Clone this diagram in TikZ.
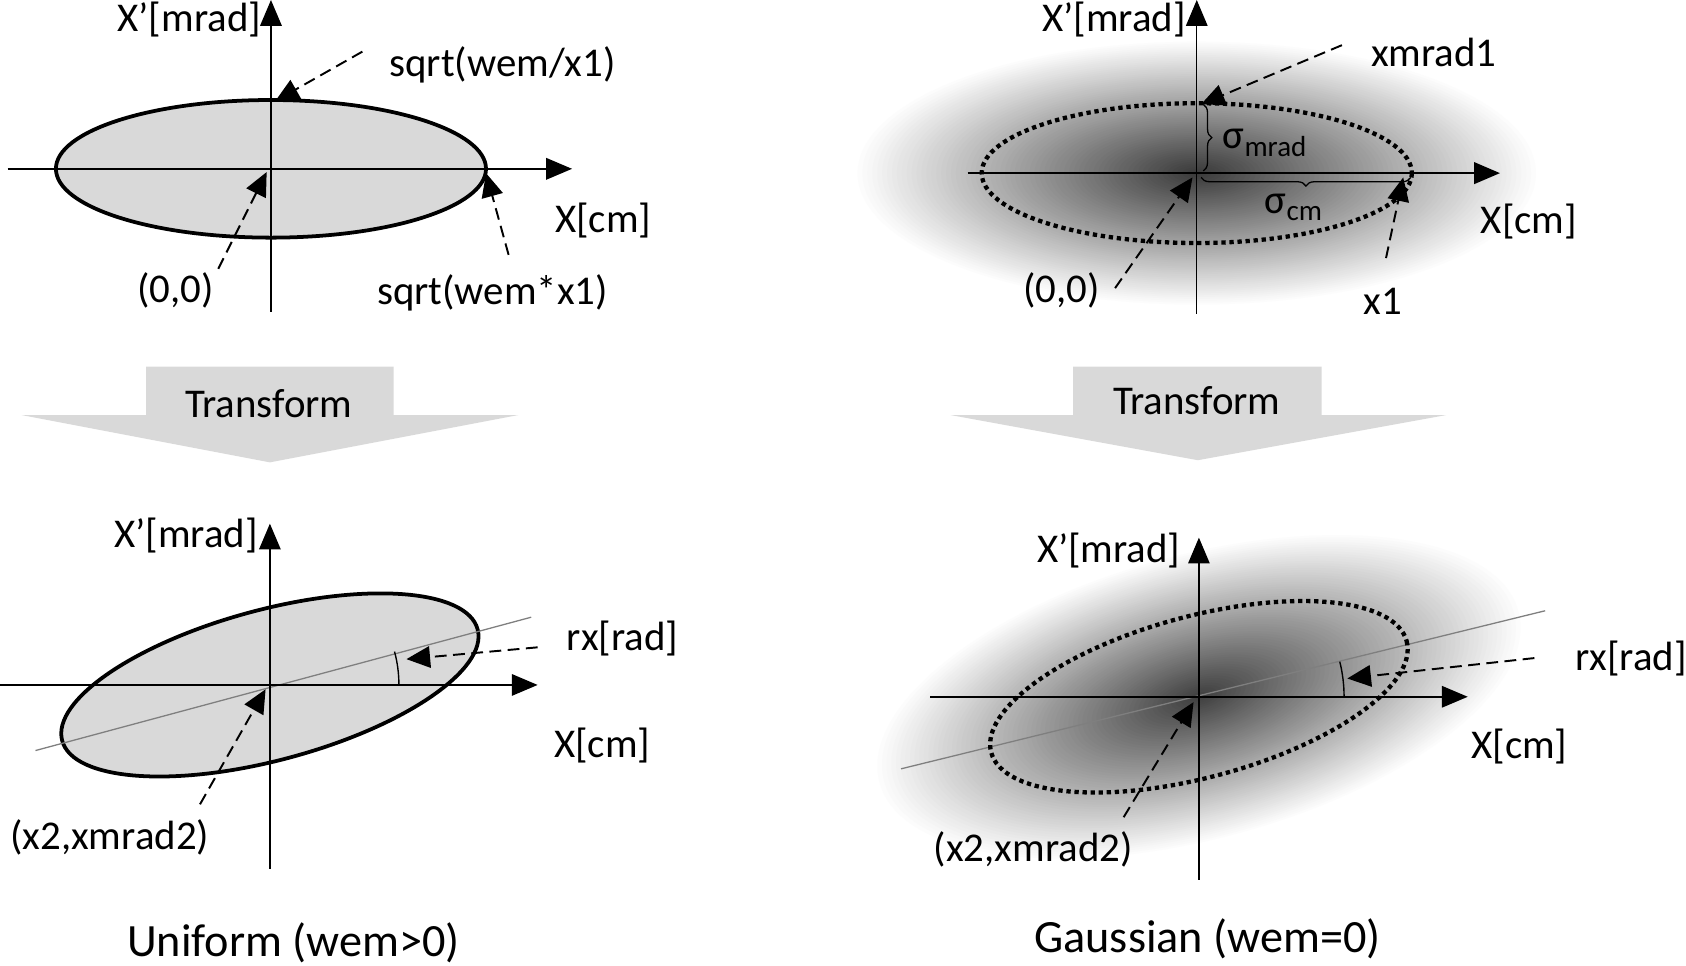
\documentclass[tikz,border=0pt]{standalone}
\usepackage{fontspec}
\setmainfont{Carlito}
\usetikzlibrary{arrows.meta,decorations.pathreplacing}
\definecolor{gfill}{HTML}{D9D9D9}
\definecolor{rayc}{HTML}{7F7F7F}
\begin{document}
\begin{tikzpicture}[x=1pt,y=-1pt,
  lbl/.style={inner sep=0pt,font=\fontsize{38}{44}\selectfont},
  capt/.style={inner sep=0pt,font=\fontsize{43}{50}\selectfont},
  axis/.style={line width=1.4pt,-{Triangle[length=24pt,width=20pt]}},
  ptr/.style={line width=1.8pt,dash pattern=on 11pt off 6pt,-{Triangle[length=22pt,width=20pt]}},
  uell/.style={draw=black,line width=3.5pt,fill=gfill},
  dell/.style={draw=black,line width=4pt,dash pattern=on 4pt off 3.5pt},
  tarrow/.style={fill=gfill,draw=none},
  rayline/.style={draw=rayc,line width=1.2pt},
  angarc/.style={draw=black,line width=1.3pt},
  brc/.style={draw=black,line width=1.2pt,decorate,decoration={brace,amplitude=8pt}},
]
\useasboundingbox (0,0) rectangle (1568,898);

% ================= top-left =================
\coordinate (o1) at (252,157);
\draw[uell] (o1) ellipse [x radius=200, y radius=64];
\coordinate (v1a) at (252,290); \coordinate (v1b) at (252,0);
\coordinate (h1a) at (7,157); \coordinate (h1b) at (532,157);
\draw[axis] (v1a) -- (v1b);
\draw[axis] (h1a) -- (h1b);
\node[lbl,anchor=east] (y1) at (243,18) {X’[mrad]};
\node[lbl,anchor=west] (t1) at (362,60) {sqrt(wem/x1)};
\node[lbl] (xl1) at (561,205) {X[cm]};
\node[lbl] (z1) at (163,270) {(0,0)};
\node[lbl] (s1) at (458,272) {sqrt(wem*x1)};
\coordinate (p1s) at (337,48); \coordinate (p1e) at (256,94);
\coordinate (p2s) at (203,250); \coordinate (p2e) at (248,160);
\coordinate (p3s) at (473,237); \coordinate (p3e) at (452,161);
\draw[ptr] (p1s) -- (p1e);
\draw[ptr] (p2s) -- (p2e);
\draw[ptr] (p3s) -- (p3e);

% ================= transform arrows =================
\fill[tarrow] (136,341) -- (366,341) -- (366,386) -- (482,386) -- (251,430) -- (20,386) -- (136,386) -- cycle;
\node[lbl] (tr1) at (250,375) {Transform};
\fill[tarrow] (998,341) -- (1229,341) -- (1229,386) -- (1345,386) -- (1114,428) -- (884,386) -- (998,386) -- cycle;
\node[lbl] (tr2) at (1113,373) {Transform};

% ================= bottom-left =================
\coordinate (o2) at (251,637);
\begin{scope}[shift={(o2)},rotate=15]
  \draw[uell] (0,0) ellipse [x radius=200, y radius=70];
\end{scope}
\coordinate (r2a) at (33,698); \coordinate (r2b) at (494,574);
\draw[rayline] (r2a) -- (r2b);
\coordinate (v2a) at (251,808); \coordinate (v2b) at (251,487);
\coordinate (h2a) at (0,637); \coordinate (h2b) at (500,637);
\draw[axis] (v2a) -- (v2b);
\draw[axis] (h2a) -- (h2b);
\draw[angarc] (371,637) arc[start angle=0, end angle=-15, radius=120];
\node[lbl,anchor=east] (y2) at (240,498) {X’[mrad]};
\node[lbl,anchor=west] (rx2) at (527,594) {rx[rad]};
\node[lbl] (xl2) at (560,693) {X[cm]};
\node[lbl] (q2) at (102,779) {(x2,xmrad2)};
\node[capt] (c2) at (273,877) {Uniform (wem>0)};
\coordinate (p4s) at (500,602); \coordinate (p4e) at (378,613);
\coordinate (p5s) at (186,748); \coordinate (p5e) at (247,641);
\draw[ptr] (p4s) -- (p4e);
\draw[ptr] (p5s) -- (p5e);

% ================= top-right =================
\coordinate (o3) at (1113,161);
\begin{scope}[shift={(o3)}]
  \foreach \i in {0,...,69}{
    \pgfmathsetmacro{\rr}{1-\i/70}
    \pgfmathsetmacro{\dd}{78*(1-\rr)}
    \pgfmathsetmacro{\ra}{320*\rr}
    \pgfmathsetmacro{\rb}{124*\rr}
    \fill[black!\dd] (0,0) ellipse [x radius=\ra, y radius=\rb];
  }
\end{scope}
\coordinate (v3a) at (1113,292); \coordinate (v3b) at (1113,0);
\coordinate (h3a) at (900,161); \coordinate (h3b) at (1395,161);
\draw[axis,line width=1.1pt] (v3a) -- (v3b);
\draw[axis,line width=2pt] (h3a) -- (h3b);
\draw[dell] (o3) ellipse [x radius=200, y radius=65];
\coordinate (b1a) at (1119,97); \coordinate (b1b) at (1119,159);
\draw[brc] (b1a) -- (b1b);
\coordinate (b2a) at (1312,165); \coordinate (b2b) at (1117,165);
\draw[brc] (b2a) -- (b2b);
\node[lbl,anchor=west] (sm) at (1137,133) {σ\raisebox{-7pt}{\fontsize{27}{30}\selectfont mrad}};
\node[lbl] (sc) at (1203,193) {σ\raisebox{-7pt}{\fontsize{27}{30}\selectfont cm}};
\node[lbl,anchor=east] (y3) at (1103,18) {X’[mrad]};
\node[lbl,anchor=west] (xm3) at (1275,49) {xmrad1};
\node[lbl] (xl3) at (1422,206) {X[cm]};
\node[lbl] (z3) at (987,270) {(0,0)};
\node[lbl] (x13) at (1286,280) {x1};
\coordinate (p6s) at (1248,42); \coordinate (p6e) at (1117,97);
\coordinate (p7s) at (1037,268); \coordinate (p7e) at (1109,165);
\coordinate (p8s) at (1289,240); \coordinate (p8e) at (1305,165);
\draw[ptr] (p6s) -- (p6e);
\draw[ptr] (p7s) -- (p7e);
\draw[ptr] (p8s) -- (p8e);

% ================= bottom-right =================
\coordinate (o4) at (1115,648);
\begin{scope}[shift={(o4)},rotate=15]
  \foreach \i in {0,...,69}{
    \pgfmathsetmacro{\rr}{1-\i/70}
    \pgfmathsetmacro{\dd}{76*(1-\rr)}
    \pgfmathsetmacro{\ra}{312*\rr}
    \pgfmathsetmacro{\rb}{134*\rr}
    \fill[black!\dd] (0,0) ellipse [x radius=\ra, y radius=\rb];
  }
\end{scope}
\coordinate (r4a) at (838,715); \coordinate (r4b) at (1437,568);
\draw[rayline] (r4a) -- (r4b);
\coordinate (v4a) at (1115,818); \coordinate (v4b) at (1115,500);
\coordinate (h4a) at (865,648); \coordinate (h4b) at (1365,648);
\draw[axis,line width=1.1pt] (v4a) -- (v4b);
\draw[axis] (h4a) -- (h4b);
\begin{scope}[shift={(o4)},rotate=15]
  \draw[dell] (0,0) ellipse [x radius=200, y radius=75];
\end{scope}
\draw[angarc] (1250,648) arc[start angle=0, end angle=-14, radius=135];
\node[lbl,anchor=east] (y4) at (1098,512) {X’[mrad]};
\node[lbl,anchor=west] (rx4) at (1465,612) {rx[rad]};
\node[lbl] (xl4) at (1413,694) {X[cm]};
\node[lbl] (q4) at (961,790) {(x2,xmrad2)};
\node[capt] (c4) at (1123,873) {Gaussian (wem=0)};
\coordinate (p9s) at (1427,612); \coordinate (p9e) at (1253,631);
\coordinate (p10s) at (1045,760); \coordinate (p10e) at (1110,653);
\draw[ptr] (p9s) -- (p9e);
\draw[ptr] (p10s) -- (p10e);
\end{tikzpicture}
\end{document}
